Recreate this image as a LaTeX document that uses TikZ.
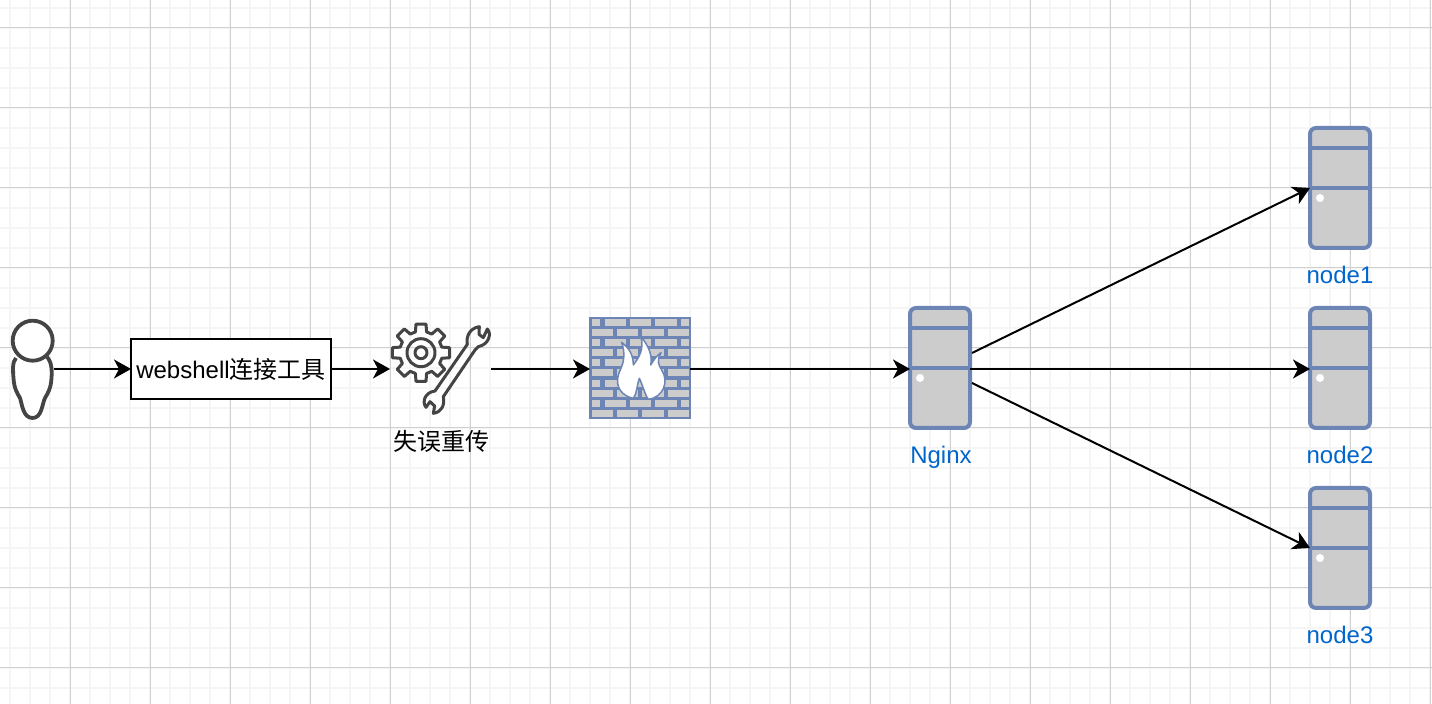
\documentclass[tikz,border=0pt]{standalone}
\usepackage{fontspec}
\usepackage{tikz}
\usetikzlibrary{arrows.meta, positioning, calc}
\setmainfont{Liberation Sans}
\newfontfamily\cjk{Noto Sans CJK SC}
\definecolor{GridMajor}{RGB}{208, 208, 208}
\definecolor{GridMinor}{RGB}{245, 245, 245}
\definecolor{IconGray}{RGB}{68, 68, 68}
\definecolor{SrvBlue}{RGB}{108, 133, 181}
\definecolor{SrvGray}{RGB}{204, 204, 204}
\definecolor{LabelBlue}{RGB}{0, 102, 204}

\begin{document}
\begin{tikzpicture}[
    x=0.5pt, y=-0.5pt,
    font=\fontsize{12pt}{14pt}\selectfont,
    iconbox/.style={rectangle, inner sep=0pt, outer sep=0pt, minimum width=#1, minimum height=50pt},
    toolbox/.style={rectangle, draw=black, fill=white, line width=1pt, inner sep=0pt, outer sep=0pt, minimum width=100pt, minimum height=30pt},
    srvbox/.style={rectangle, rounded corners=3pt, draw=SrvBlue, fill=SrvGray, line width=2pt, inner sep=0pt, outer sep=0pt, minimum width=30pt, minimum height=60pt},
    srvline/.style={draw=SrvBlue, line width=2pt},
    srvlabel/.style={text=LabelBlue, inner sep=0pt},
    iconline/.style={draw=IconGray, line width=1.5pt, line join=round},
    flowarr/.style={-{Stealth[length=8.5pt, width=9.5pt, inset=2.5pt]}, line width=1pt, color=black}
]
    \useasboundingbox (0,0) rectangle (1432,704);
    \fill[white] (0,0) rectangle (1432,704);

    % Grid
    \foreach \x in {10,30,...,1430} \draw[GridMinor, line width=0.75pt] (\x,0) -- (\x,704);
    \foreach \y in {8,28,...,704} \draw[GridMinor, line width=0.75pt] (0,\y) -- (1432,\y);
    \foreach \x in {70,150,...,1430} \draw[GridMajor, line width=0.5pt] (\x,0) -- (\x,704);
    \foreach \y in {28,108,...,704} \draw[GridMajor, line width=0.5pt] (0,\y) -- (1432,\y);

    % Nodes
    \node[iconbox=20.5pt] (user) at (33,369) {};
    \node[toolbox, right=38.75pt of user] (webshell) {webshell{\cjk 连接工具}};
    \node[iconbox=50.5pt, right=29.5pt of webshell] (tools) {};
    \node[below=5.5pt of tools, inner sep=0pt, xshift=0.5pt] (toolslabel) {\cjk 失误重传};
    \node[iconbox=50pt, right=49.5pt of tools] (firewall) {};
    \node[srvbox, right=110pt of firewall, yshift=0.5pt] (nginx) {};
    \node[srvbox, right=170pt of nginx] (node2) {};
    \node[srvbox, above=30pt of node2] (node1) {};
    \node[srvbox, below=30pt of node2] (node3) {};

    \node[srvlabel, below=9pt of nginx, xshift=0.5pt] (nginxlabel) {Nginx};
    \node[srvlabel, below=9pt of node1] (node1label) {node1};
    \node[srvlabel, below=9pt of node2] (node2label) {node2};
    \node[srvlabel, below=9pt of node3] (node3label) {node3};

    % Server details
    \foreach \n in {nginx,node1,node2,node3} {
        \draw[srvline] (\n.west) -- (\n.east);
        \draw[srvline] ([yshift=20pt]\n.west) -- ([yshift=20pt]\n.east);
        \fill[white] ([xshift=5pt,yshift=-5pt]\n.west) circle (2pt);
    }

    % User icon
    \draw[iconline, line width=1.9pt, fill=white] (16,358) .. controls (12,362) and (13,372) .. (13.5,378)
        .. controls (14,388) and (17,393) .. (20,398)
        .. controls (22,404) and (23,418) .. (32.5,418)
        .. controls (42,418) and (42,404) .. (45,398)
        .. controls (48,393) and (51,388) .. (51.5,378)
        .. controls (52,372) and (52,362) .. (47,357);
    \draw[iconline, line width=1.9pt, fill=white] (32.7,340.7) circle (20);

    % Gear and wrench
    \draw[iconline] \foreach \a [count=\i] in {0,45,...,315} {
        \ifnum\i=1 ($(421,352.7)+(\a-15:21.5)$) \else -- ($(421,352.7)+(\a-15:21.5)$) \fi
        -- ($(421,352.7)+(\a-10:29)$) -- ($(421,352.7)+(\a+10:29)$) -- ($(421,352.7)+(\a+15:21.5)$)
    } -- cycle;
    \draw[iconline] (421,352.7) circle (14);
    \draw[iconline] (421,352.7) circle (6);
    \begin{scope}[shift={(380,305)}, scale=1/3]
        \draw[iconline] (165,258) -- (262,118) .. controls (258,95) and (268,70) .. (298,65)
            -- (297,88) -- (310,98) -- (322,72) .. controls (335,85) and (328,118) .. (295,125)
            -- (285,135) -- (190,275) .. controls (195,300) and (185,322) .. (160,325)
            -- (164,303) -- (150,290) -- (138,307) .. controls (125,290) and (135,262) .. (165,258) -- cycle;
    \end{scope}

    % Firewall
    \fill[SrvBlue] (589,317.5) rectangle (691,419);
    \foreach \y in {0,2,...,8} {
        \foreach \xa/\xb in {591.5/600, 604.5/626, 629.5/651, 655/676.5, 680.5/689}
            \fill[SrvGray] (\xa,319+\y*10.1) rectangle (\xb,326+\y*10.1);
        \foreach \xa/\xb in {591.5/612.5, 616.5/638, 642/664, 668/689}
            \fill[SrvGray] (\xa,329.1+\y*10.1) rectangle (\xb,336.1+\y*10.1);
    }
    \begin{scope}[shift={(580,310)}, scale=1/3]
        \draw[fill=white, draw=SrvBlue, line width=0.75pt, line join=round] (160,265)
            .. controls (125,258) and (105,230) .. (115,195)
            .. controls (122,172) and (142,150) .. (125,97)
            .. controls (148,115) and (160,135) .. (160,165)
            .. controls (178,140) and (192,120) .. (183,80)
            .. controls (208,110) and (218,140) .. (212,165)
            .. controls (222,148) and (232,135) .. (243,128)
            .. controls (230,150) and (235,165) .. (245,180)
            .. controls (268,215) and (250,262) .. (205,268)
            .. controls (195,255) and (188,225) .. (178,205)
            .. controls (170,225) and (172,250) .. (160,265) -- cycle;
    \end{scope}

    % Flow Arrows
    \draw[flowarr] (user) -- (webshell);
    \draw[flowarr] (webshell) -- (tools);
    \draw[flowarr] (tools) -- (firewall);
    \draw[flowarr] (firewall) -- (firewall -| nginx.west);
    \draw[flowarr] ([xshift=1pt,yshift=7.5pt]nginx.east) -- (node1.west);
    \draw[flowarr] ([yshift=-0.5pt]nginx.east) -- ([yshift=-0.5pt]node2.west);
    \draw[flowarr] ([xshift=1pt,yshift=-7.5pt]nginx.east) -- (node3.west);

\end{tikzpicture}
\end{document}
